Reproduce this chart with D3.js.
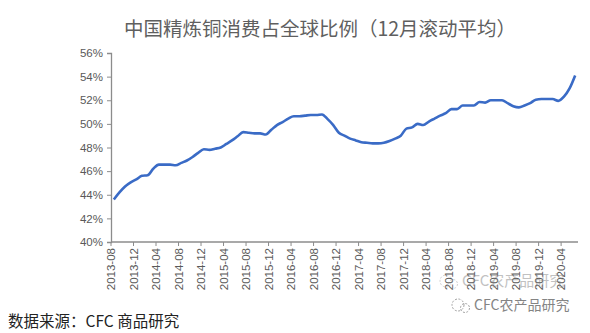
<!DOCTYPE html>
<html>
<head>
<meta charset="utf-8">
<script src="https://cdn.jsdelivr.net/npm/d3@7"></script>
<style>
  body { margin: 0; background: #fff; }
  svg { display: block; font-family: "Liberation Sans", Arial, sans-serif; }
</style>
</head>
<body>
<div id="chart"></div>
<script>
const title = "中国精炼铜消费占全球比例（12月滚动平均）";
const source = "数据来源：CFC 商品研究";
const watermark = "CFC农产品研究";

// monthly values from 2013-08 to 2020-06, in percent
const startMonth = "2013-08";
const values = [
  43.6, 44.2, 44.7, 45.05, 45.3, 45.6, 45.65, 46.2, 46.55, 46.55,
  46.55, 46.5, 46.7, 46.9, 47.2, 47.55, 47.85, 47.8, 47.9, 48.0,
  48.3, 48.6, 48.95, 49.3, 49.25, 49.2, 49.2, 49.1, 49.5, 49.9,
  50.15, 50.45, 50.65, 50.65, 50.7, 50.75, 50.75, 50.8, 50.4, 49.9,
  49.25, 49.0, 48.75, 48.6, 48.45, 48.4, 48.35, 48.35, 48.4, 48.55,
  48.75, 49.0, 49.6, 49.7, 50.0, 49.9, 50.2, 50.45, 50.7, 50.9,
  51.25, 51.25, 51.55, 51.55, 51.55, 51.85, 51.8, 52.0, 52.0, 52.0,
  51.75, 51.5, 51.4, 51.55, 51.75, 52.05, 52.1, 52.1, 52.1, 51.95,
  52.3, 53.0, 54.1
];
const yTicks = [40, 42, 44, 46, 48, 50, 52, 54, 56];

const width = 590, height = 333;
const margin = { top: 53, right: 12, bottom: 91, left: 111 };
const innerW = width - margin.left - margin.right;
const innerH = height - margin.top - margin.bottom;

const parse = d3.timeParse("%Y-%m");
const fmt = d3.timeFormat("%Y-%m");
const start = parse(startMonth);
const data = values.map((v, i) => ({ month: fmt(d3.timeMonth.offset(start, i)), value: v }));
const tickLabels = data.filter((d, i) => i % 4 === 0).map((d) => d.month);

const svg = d3.select("#chart").append("svg")
  .attr("width", width).attr("height", height);

svg.append("text")
  .attr("x", 320).attr("y", 36)
  .attr("text-anchor", "middle")
  .attr("font-family", "'Noto Sans CJK SC', sans-serif")
  .attr("font-size", 19.5)
  .attr("fill", "#5f5f5f")
  .text(title);

const g = svg.append("g").attr("transform", `translate(${margin.left},${margin.top})`);

const x = d3.scaleBand().domain(data.map((d) => d.month)).range([0, innerW]);
const y = d3.scaleLinear().domain([40, 56]).range([innerH, 0]);

const axisColor = "#8c8c8c";

// y axis
const yAxis = g.append("g")
  .call(d3.axisLeft(y).tickValues(yTicks).tickSize(4).tickPadding(4).tickFormat((d) => d + "%"));
yAxis.select(".domain").attr("stroke", axisColor).attr("stroke-width", 1.3);
yAxis.selectAll(".tick line").attr("stroke", axisColor);
yAxis.selectAll("text").attr("fill", "#595959").attr("font-size", 11.5);

// x axis: ticks at band boundaries every 4 months
const xAxis = g.append("g").attr("transform", `translate(0,${innerH})`);
xAxis.append("line")
  .attr("x1", 0).attr("x2", innerW)
  .attr("stroke", axisColor).attr("stroke-width", 1.3);
const xt = xAxis.selectAll(".xtick").data(tickLabels).join("g")
  .attr("class", "xtick")
  .attr("transform", (d) => `translate(${x(d)},0)`);
xt.append("line").attr("y1", 0).attr("y2", 4).attr("stroke", axisColor);
xt.append("text")
  .attr("transform", "translate(4,6) rotate(-90)")
  .attr("text-anchor", "end")
  .attr("font-size", 11.5)
  .attr("fill", "#595959")
  .text((d) => d);

// line
const line = d3.line()
  .x((d) => x(d.month) + x.bandwidth() / 2)
  .y((d) => y(d.value))
  .curve(d3.curveMonotoneX);

g.append("path")
  .datum(data)
  .attr("fill", "none")
  .attr("stroke", "#3a6bc6")
  .attr("stroke-width", 2.6)
  .attr("stroke-linejoin", "round")
  .attr("d", line);

// source
svg.append("text")
  .attr("x", 8).attr("y", 327)
  .attr("font-family", "'Noto Sans CJK SC', sans-serif")
  .attr("font-size", 15.5)
  .attr("fill", "#222")
  .text(source);

// watermarks
function mark(cx, cy, opacity, size) {
  const w = svg.append("g").attr("opacity", opacity);
  w.append("circle").attr("cx", cx).attr("cy", cy - 5).attr("r", 6)
    .attr("fill", "none").attr("stroke", "#999").attr("stroke-dasharray", "2,1.5");
  w.append("circle").attr("cx", cx + 7).attr("cy", cy - 2).attr("r", 4.5)
    .attr("fill", "none").attr("stroke", "#999").attr("stroke-dasharray", "2,1.5");
  w.append("text")
    .attr("x", cx + 16).attr("y", cy)
    .attr("font-family", "'Noto Sans CJK SC', sans-serif")
    .attr("font-size", size)
    .attr("fill", "#777")
    .text(watermark);
}
mark(446, 286, 0.45, 15);
mark(458, 310, 0.9, 14);
</script>
</body>
</html>
